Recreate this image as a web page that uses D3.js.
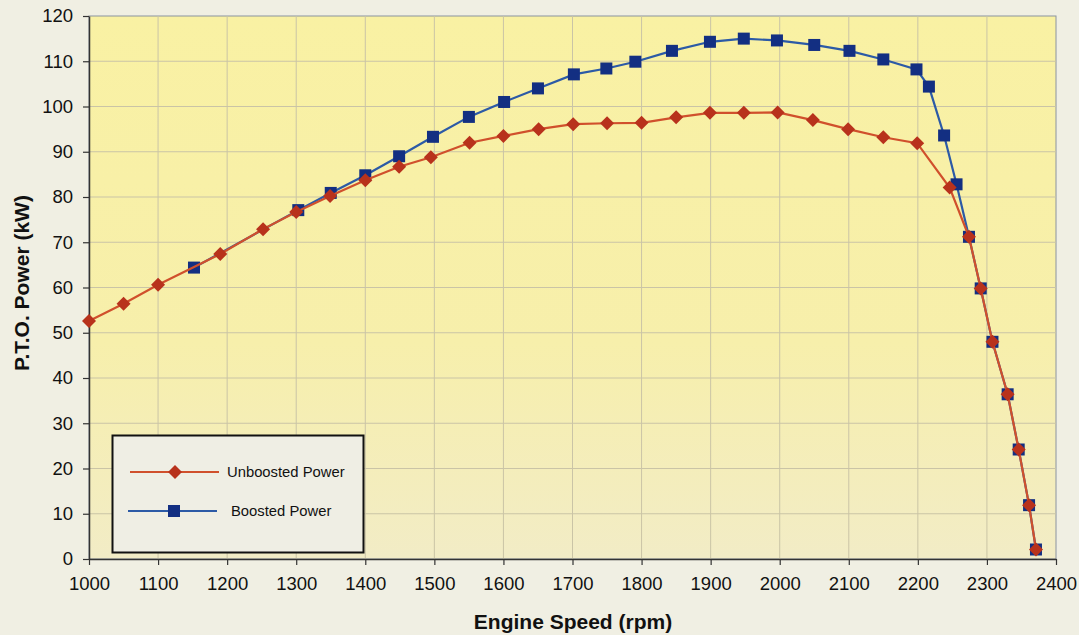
<!DOCTYPE html>
<head>
  <meta charset="utf-8">
  <script src="https://d3js.org/d3.v7.min.js"></script>
  <style>
    body { margin: 0; background: #f0efe3; }
    svg { width: 1079px; height: 635px; display: block; font-family: "Liberation Sans", Arial, sans-serif; }
  </style>
</head>
<body>
  <svg></svg>
  <script>
    // Unboosted power (red diamonds)
    var unboostedRpm = [1000, 1050, 1100, 1190, 1252, 1300, 1349, 1400, 1449, 1495, 1551, 1600, 1651, 1701, 1750, 1800, 1850, 1899, 1948, 1997, 2048, 2099, 2150, 2199, 2246, 2274, 2291, 2308, 2330, 2346, 2361, 2371];
    var unboostedKw = [52.6, 56.4, 60.6, 67.4, 72.9, 76.7, 80.2, 83.7, 86.7, 88.8, 92.0, 93.5, 95.0, 96.1, 96.3, 96.4, 97.6, 98.6, 98.6, 98.7, 97.0, 95.0, 93.2, 91.9, 82.1, 71.2, 59.8, 48.0, 36.4, 24.2, 11.9, 2.1];
    // Boosted power (blue squares)
    var boostedRpm = [1152, 1303, 1350, 1400, 1449, 1498, 1550, 1601, 1650, 1702, 1749, 1791, 1844, 1899, 1948, 1996, 2050, 2101, 2150, 2198, 2216, 2238, 2256, 2274, 2291, 2308, 2330, 2346, 2361, 2371];
    var boostedKw = [64.4, 77.1, 80.9, 84.8, 89.0, 93.3, 97.7, 101.0, 104.0, 107.1, 108.4, 109.9, 112.3, 114.3, 115.0, 114.6, 113.6, 112.3, 110.4, 108.2, 104.4, 93.6, 82.8, 71.2, 59.8, 48.0, 36.4, 24.2, 11.9, 2.1];

    var xTicks = [1000, 1100, 1200, 1300, 1400, 1500, 1600, 1700, 1800, 1900, 2000, 2100, 2200, 2300, 2400];
    var yTicks = [0, 10, 20, 30, 40, 50, 60, 70, 80, 90, 100, 110, 120];

    var seriesNames = ['Unboosted Power', 'Boosted Power'];

    var plotL = 89, plotR = 1056, plotT = 16, plotB = 559;
    var svg = d3.select('svg');

    var x = d3.scaleLinear().domain([1000, 2400]).range([plotL, plotR]);
    var y = d3.scaleLinear().domain([0, 120]).range([plotB, plotT]);

    var grad = svg.append('defs').append('linearGradient')
      .attr('id', 'plotbg').attr('x1', 0).attr('y1', 0).attr('x2', 0).attr('y2', 1);
    grad.append('stop').attr('offset', '0%').attr('stop-color', '#f9f1a3');
    grad.append('stop').attr('offset', '60%').attr('stop-color', '#f7efab');
    grad.append('stop').attr('offset', '100%').attr('stop-color', '#f2ecc6');

    svg.append('rect')
      .attr('x', plotL).attr('y', plotT)
      .attr('width', plotR - plotL).attr('height', plotB - plotT)
      .attr('fill', 'url(#plotbg)')
      .attr('stroke', '#8a93a0').attr('stroke-width', 1);

    // grid
    svg.append('g').selectAll('line')
      .data(yTicks.slice(1, -1)).enter().append('line')
      .attr('x1', plotL).attr('x2', plotR)
      .attr('y1', function(d) { return y(d); }).attr('y2', function(d) { return y(d); })
      .attr('stroke', '#cac4a6').attr('stroke-width', 1);
    svg.append('g').selectAll('line')
      .data(xTicks.slice(1, -1)).enter().append('line')
      .attr('y1', plotT).attr('y2', plotB)
      .attr('x1', function(d) { return x(d); }).attr('x2', function(d) { return x(d); })
      .attr('stroke', '#cac4a6').attr('stroke-width', 1);

    // axes
    var xAxis = svg.append('g')
      .attr('transform', 'translate(0,' + plotB + ')')
      .call(d3.axisBottom(x).tickValues(xTicks).tickFormat(d3.format('d'))
        .tickSize(6).tickPadding(12).tickSizeOuter(0));
    var yAxis = svg.append('g')
      .attr('transform', 'translate(' + plotL + ',0)')
      .call(d3.axisLeft(y).tickValues(yTicks).tickFormat(d3.format('d'))
        .tickSize(6).tickPadding(10).tickSizeOuter(0));
    [xAxis, yAxis].forEach(function(a) {
      a.select('.domain').attr('stroke', '#333').attr('stroke-width', 1.5);
      a.selectAll('.tick line').attr('stroke', '#333').attr('stroke-width', 1.2);
      a.selectAll('text').attr('fill', '#111').style('font-size', '18.5px')
        .style('font-family', '"Liberation Sans", Arial, sans-serif');
    });

    svg.append('text')
      .attr('x', 573).attr('y', 629)
      .attr('text-anchor', 'middle')
      .style('font-size', '21px').style('font-weight', 'bold').attr('fill', '#111')
      .text('Engine Speed (rpm)');
    svg.append('text')
      .attr('transform', 'translate(29,283)rotate(-90)')
      .attr('text-anchor', 'middle')
      .style('font-size', '21px').style('font-weight', 'bold').attr('fill', '#111')
      .text('P.T.O. Power (kW)');

    var line = d3.line()
      .x(function(d) { return x(d[0]); })
      .y(function(d) { return y(d[1]); });

    var boosted = d3.zip(boostedRpm, boostedKw);
    var unboosted = d3.zip(unboostedRpm, unboostedKw);

    var blueLine = '#2c5aa6', blueMark = '#132f82';
    var redLine = '#d0502c', redMark = '#b8321c';

    svg.append('path').datum(boosted)
      .attr('d', line).attr('fill', 'none')
      .attr('stroke', blueLine).attr('stroke-width', 2.2);
    svg.append('g').selectAll('rect')
      .data(boosted).enter().append('rect')
      .attr('x', function(d) { return x(d[0]) - 6; })
      .attr('y', function(d) { return y(d[1]) - 6; })
      .attr('width', 12).attr('height', 12)
      .attr('fill', blueMark);

    svg.append('path').datum(unboosted)
      .attr('d', line).attr('fill', 'none')
      .attr('stroke', redLine).attr('stroke-width', 2.2);
    svg.append('g').selectAll('path')
      .data(unboosted).enter().append('path')
      .attr('d', 'M0,-7L7,0L0,7L-7,0Z')
      .attr('transform', function(d) { return 'translate(' + [x(d[0]), y(d[1])] + ')'; })
      .attr('fill', redMark);

    // legend
    var legend = svg.append('g');
    legend.append('rect')
      .attr('x', 112.5).attr('y', 435.5).attr('width', 251).attr('height', 117)
      .attr('fill', '#efeee4').attr('stroke', '#111').attr('stroke-width', 2);
    var items = legend.selectAll('g.item')
      .data(seriesNames).enter().append('g')
      .attr('transform', function(d, i) { return 'translate(0,' + (472 + i * 39) + ')'; });
    items.append('line')
      .attr('x1', function(d, i) { return i ? 128 : 130; })
      .attr('x2', function(d, i) { return i ? 217 : 219; })
      .attr('stroke', function(d, i) { return i ? blueLine : redLine; })
      .attr('stroke-width', 2.2);
    items.append('path')
      .attr('d', function(d, i) { return i ? 'M-6,-6H6V6H-6Z' : 'M0,-7L7,0L0,7L-7,0Z'; })
      .attr('transform', function(d, i) { return 'translate(' + (i ? 174 : 175) + ',0)'; })
      .attr('fill', function(d, i) { return i ? blueMark : redMark; });
    items.append('text')
      .attr('x', function(d, i) { return i ? 231 : 227; })
      .attr('y', 5)
      .style('font-size', '14.8px').attr('fill', '#111')
      .text(function(d) { return d; });
  </script>
</body>
